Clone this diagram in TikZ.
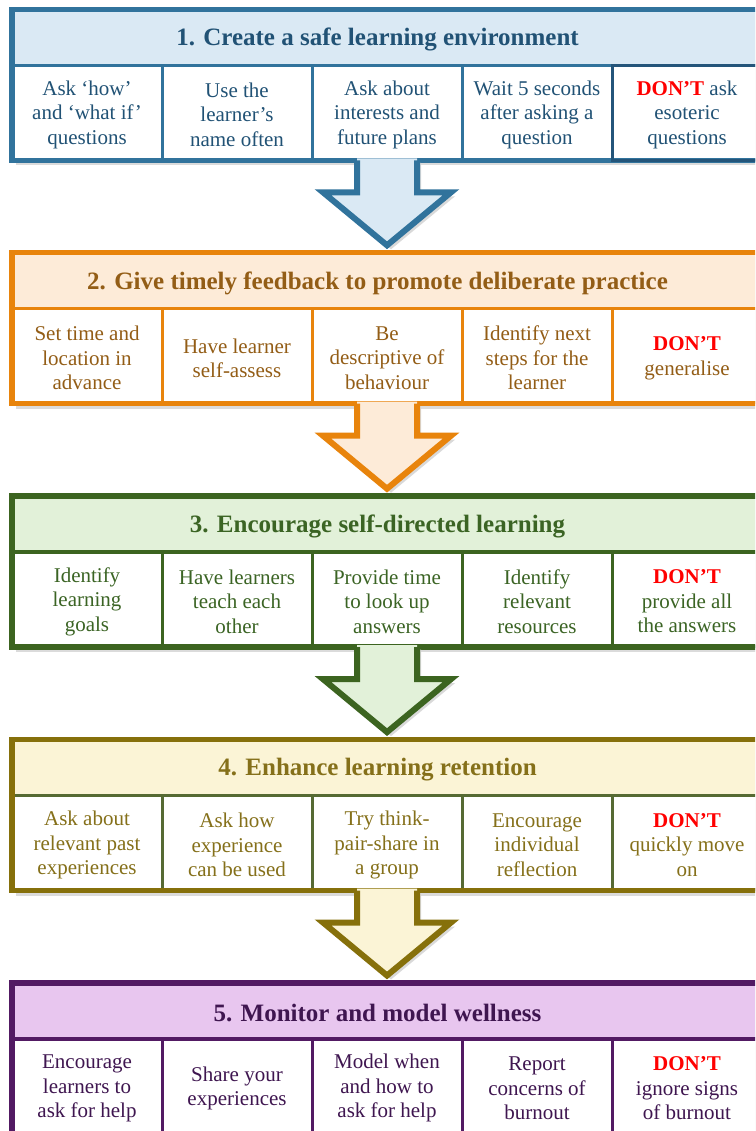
\documentclass[tikz,border=0pt]{standalone}
\usepackage{fontspec}
\setmainfont{Liberation Serif}
\newfontfamily\tnr{Liberation Serif}
\definecolor{dontred}{HTML}{FF0000}
\definecolor{pAb}{HTML}{31739C}\definecolor{pAh}{HTML}{DAE9F4}\definecolor{pAt}{HTML}{215275}\definecolor{pAdark}{HTML}{24557A}
\definecolor{pBb}{HTML}{E8840C}\definecolor{pBh}{HTML}{FDEBD8}\definecolor{pBt}{HTML}{935D16}
\definecolor{pCb}{HTML}{3C6420}\definecolor{pCh}{HTML}{E2F1D9}\definecolor{pCt}{HTML}{3B6424}
\definecolor{pDb}{HTML}{86700B}\definecolor{pDc}{HTML}{566A33}\definecolor{pDh}{HTML}{FBF4D6}\definecolor{pDt}{HTML}{85701A}
\definecolor{pEb}{HTML}{521A63}\definecolor{pEh}{HTML}{E8C6EF}\definecolor{pEt}{HTML}{3F1650}
\tikzset{
  celltext/.style={minimum width=150pt, minimum height=95pt, inner sep=0pt, align=center,
    font=\tnr\fontsize{21}{24.5}\selectfont, text=tc},
  titletext/.style={font=\tnr\fontsize{25}{30}\selectfont\bfseries, inner sep=0pt, text=tc},
}
\newcommand{\dont}{\textcolor{dontred}{\textbf{DON’T}}}
% #1 name, #2 top, #3 title, #4-#8 cells
\newcommand{\mypanel}[8]{%
  \fill[gray!28] (16,#2+4) rectangle (775,#2+156);
  \fill[white] (12,#2) rectangle (770,#2+151);
  \fill[hc] (12,#2) rectangle (770,#2+56);
  \node[titletext] (#1h) at (377.5,#2+30.5) {#3};
  \node[celltext] (#1c1) at (87,#2+105.5) {#4};
  \node[celltext] (#1c2) at (237,#2+105.5) {#5};
  \node[celltext] (#1c3) at (387,#2+105.5) {#6};
  \node[celltext] (#1c4) at (537,#2+105.5) {#7};
  \node[celltext] (#1c5) at (687,#2+105.5) {#8};
  \foreach \cx in {162,312,462,612,762} \draw[cc, line width=3pt] (\cx,#2+56) -- (\cx,#2+151);
  \draw[cc, line width=3pt] (12,#2+150) -- (770,#2+150);
  \draw[cc, line width=3.5pt] (12,#2+56) -- (770,#2+56);
  \draw[bc, line width=5.5pt] (12,#2) rectangle (770,#2+151);
}
% #1 name of panel above, #2 border colour, #3 fill colour
\newcommand{\myarrow}[3]{%
  \begin{scope}[shift={(#1c3.center)}]
    \fill[gray!30] (-26,48) -- (-26,81.5) -- (-60,81.5) -- (4,134.5) -- (68,81.5) -- (34,81.5) -- (34,48) -- cycle;
    \fill[#3] (-30,43.5) -- (-30,77.5) -- (-64,77.5) -- (0,130.5) -- (64,77.5) -- (30,77.5) -- (30,43.5) -- cycle;
    \draw[#2, line width=6pt, line join=miter] (-30,45.5) -- (-30,77.5) -- (-64,77.5) -- (0,130.5) -- (64,77.5) -- (30,77.5) -- (30,45.5);
  \end{scope}
}
\begin{document}
\begin{tikzpicture}[x=1pt,y=-1pt]
\useasboundingbox (0,0) rectangle (755,1131);
\clip (0,0) rectangle (755,1131);
\fill[white] (0,0) rectangle (755,1131);

\colorlet{bc}{pAb}\colorlet{cc}{pAb}\colorlet{hc}{pAh}\colorlet{tc}{pAt}
\mypanel{pa}{9.3}{1. Create a safe learning environment}
  {Ask ‘how’\\and ‘what if’\\questions}
  {Use the\\learner’s\\name often}
  {Ask about\\interests and\\future plans}
  {Wait 5 seconds\\after asking a\\question}
  {\dont{} ask\\esoteric\\questions}
\draw[pAdark, line width=3pt] (612,65.3) rectangle (762,160.3);

\colorlet{bc}{pBb}\colorlet{cc}{pBb}\colorlet{hc}{pBh}\colorlet{tc}{pBt}
\mypanel{pb}{252.7}{2. Give timely feedback to promote deliberate practice}
  {Set time and\\location in\\advance}
  {Have learner\\self-assess}
  {Be\\descriptive of\\behaviour}
  {Identify next\\steps for the\\learner}
  {\dont\\generalise}

\colorlet{bc}{pCb}\colorlet{cc}{pCb}\colorlet{hc}{pCh}\colorlet{tc}{pCt}
\mypanel{pc}{496.1}{3. Encourage self-directed learning}
  {Identify\\learning\\goals}
  {Have learners\\teach each\\other}
  {Provide time\\to look up\\answers}
  {Identify\\relevant\\resources}
  {\dont\\provide all\\the answers}

\colorlet{bc}{pDb}\colorlet{cc}{pDc}\colorlet{hc}{pDh}\colorlet{tc}{pDt}
\mypanel{pd}{739.5}{4. Enhance learning retention}
  {Ask about\\relevant past\\experiences}
  {Ask how\\experience\\can be used}
  {Try think-\\pair-share in\\a group}
  {Encourage\\individual\\reflection}
  {\dont\\quickly move\\on}

\colorlet{bc}{pEb}\colorlet{cc}{pEb}\colorlet{hc}{pEh}\colorlet{tc}{pEt}
\mypanel{pe}{982.9}{5. Monitor and model wellness}
  {Encourage\\learners to\\ask for help}
  {Share your\\experiences}
  {Model when\\and how to\\ask for help}
  {Report\\concerns of\\burnout}
  {\dont\\ignore signs\\of burnout}

\myarrow{pa}{pAb}{pAh}
\myarrow{pb}{pBb}{pBh}
\myarrow{pc}{pCb}{pCh}
\myarrow{pd}{pDb}{pDh}
\end{tikzpicture}
\end{document}
